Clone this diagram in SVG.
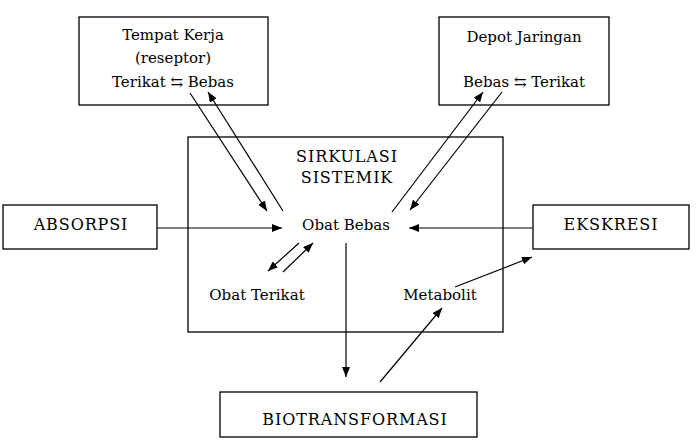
<svg xmlns="http://www.w3.org/2000/svg" width="696" height="440" viewBox="0 0 696 440">
<style>
.box{fill:#fff;stroke:#000;stroke-width:1.3}
.t{font-family:"DejaVu Serif","Liberation Serif",serif;font-size:15px;fill:#000;text-anchor:middle}
.cap{font-size:16px;letter-spacing:0.9px}
.c{stroke:#000;stroke-width:1.2;fill:none}
</style>
<defs>
<marker id="ah" viewBox="0 0 10 8" refX="10" refY="4" markerWidth="10" markerHeight="8" markerUnits="userSpaceOnUse" orient="auto">
<path d="M0,0 L10,4 L0,8 Z" fill="#000"/>
</marker>
</defs>
<rect width="696" height="440" fill="#fff"/>
<g id="sirkulasi">
<rect class="box" x="188" y="137" width="315" height="195"/>
<text class="t cap" x="347" y="162">SIRKULASI</text>
<text class="t cap" x="347" y="183">SISTEMIK</text>
</g>
<g id="obat-bebas"><text class="t" x="346" y="230">Obat Bebas</text></g>
<g id="obat-terikat"><text class="t" x="257" y="300">Obat Terikat</text></g>
<g id="metabolit"><text class="t" x="440" y="300">Metabolit</text></g>
<g id="tempat-kerja">
<rect class="box" x="79" y="17" width="189" height="88"/>
<text class="t" x="173" y="40">Tempat Kerja</text>
<text class="t" x="173" y="63">(reseptor)</text>
<text class="t" x="173" y="87">Terikat ⇆ Bebas</text>
</g>
<g id="depot">
<rect class="box" x="439" y="17" width="170" height="88"/>
<text class="t" x="524" y="42">Depot Jaringan</text>
<text class="t" x="524" y="87">Bebas ⇆ Terikat</text>
</g>
<g id="absorpsi">
<rect class="box" x="3" y="205" width="154" height="44"/>
<text class="t cap" x="81" y="230">ABSORPSI</text>
</g>
<g id="ekskresi">
<rect class="box" x="533" y="205" width="156" height="44"/>
<text class="t cap" x="611" y="230">EKSKRESI</text>
</g>
<g id="biotransformasi">
<rect class="box" x="220" y="392" width="257" height="45"/>
<text class="t cap" x="355" y="425">BIOTRANSFORMASI</text>
</g>
<g id="connectors">
<line class="c" x1="157" y1="228" x2="282" y2="228" marker-end="url(#ah)"/>
<line class="c" x1="533" y1="228" x2="409" y2="228" marker-end="url(#ah)"/>
<line class="c" x1="190" y1="93" x2="267" y2="211" marker-end="url(#ah)"/>
<line class="c" x1="283" y1="211" x2="208" y2="92" marker-end="url(#ah)"/>
<line class="c" x1="392" y1="212" x2="483" y2="92" marker-end="url(#ah)"/>
<line class="c" x1="502" y1="92" x2="410" y2="210" marker-end="url(#ah)"/>
<line class="c" x1="299" y1="243" x2="268" y2="271" marker-end="url(#ah)"/>
<line class="c" x1="283" y1="272" x2="313" y2="243" marker-end="url(#ah)"/>
<line class="c" x1="346" y1="243" x2="346" y2="377" marker-end="url(#ah)"/>
<line class="c" x1="380" y1="382" x2="442" y2="308" marker-end="url(#ah)"/>
<line class="c" x1="455" y1="287" x2="532" y2="257" marker-end="url(#ah)"/>
</g>
</svg>
